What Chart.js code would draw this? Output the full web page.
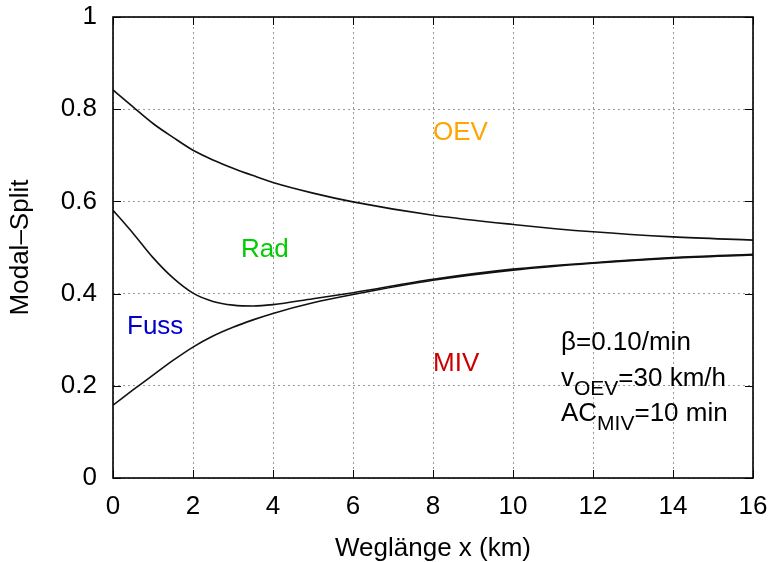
<!DOCTYPE html>
<html>
<head>
<meta charset="utf-8">
<script src="https://cdn.jsdelivr.net/npm/chart.js@4.4.1/dist/chart.umd.min.js"></script>
<style>
  html, body { margin: 0; padding: 0; background: #fff; }
  #wrap { width: 775px; height: 562px; }
</style>
</head>
<body>
<div id="wrap"><canvas id="chart"></canvas></div>
<script>
// Weglänge x (km)
const distances = [0, 0.5, 1, 1.5, 2, 2.5, 3, 3.5, 4, 5, 6, 8, 10, 12, 14, 16];
// cumulative modal split boundaries
const upperCurve = [0.842, 0.805, 0.769, 0.739, 0.711, 0.690, 0.672, 0.656, 0.641, 0.618, 0.599, 0.570, 0.550, 0.534, 0.523, 0.516];
const middleCurve = [0.581, 0.531, 0.478, 0.434, 0.401, 0.383, 0.375, 0.373, 0.376, 0.389, 0.402, 0.431, 0.453, 0.467, 0.478, 0.485];
const lowerCurve = [0.158, 0.191, 0.223, 0.255, 0.284, 0.308, 0.327, 0.343, 0.357, 0.380, 0.398, 0.429, 0.451, 0.466, 0.477, 0.484];

const xTicks = [0, 2, 4, 6, 8, 10, 12, 14, 16];
const yTicks = [0, 0.2, 0.4, 0.6, 0.8, 1];

const modeNames = ['OEV', 'Rad', 'Fuss', 'MIV'];
const modeColors = ['#ffa500', '#00cc00', '#0000cc', '#cc0000'];
const modeLabelX = [8, 3.2, 0.35, 8];
const modeLabelY = [0.748, 0.496, 0.327, 0.247];

const FONT = '"Liberation Sans", Arial, sans-serif';

function toPoints(ys) {
  return distances.map((x, i) => ({x: x, y: ys[i]}));
}

function curve(ys) {
  return {
    data: toPoints(ys),
    borderColor: '#111',
    borderWidth: 1.6,
    pointRadius: 0,
    fill: false,
    cubicInterpolationMode: 'monotone'
  };
}

// frame, inward ticks on all four sides + text labels
const decorations = {
  id: 'decorations',
  afterDatasetsDraw(chart) {
    const {ctx, chartArea: a, scales: {x, y}} = chart;
    ctx.save();
    ctx.strokeStyle = '#000';
    ctx.lineWidth = 1;
    ctx.beginPath();
    xTicks.forEach(v => {
      const px = Math.round(x.getPixelForValue(v)) + 0.5;
      ctx.moveTo(px, a.bottom); ctx.lineTo(px, a.bottom - 8);
      ctx.moveTo(px, a.top); ctx.lineTo(px, a.top + 8);
    });
    yTicks.forEach(v => {
      const py = Math.round(y.getPixelForValue(v)) + 0.5;
      ctx.moveTo(a.left, py); ctx.lineTo(a.left + 8, py);
      ctx.moveTo(a.right, py); ctx.lineTo(a.right - 8, py);
    });
    ctx.stroke();
    ctx.lineWidth = 1.6;
    ctx.strokeRect(a.left, a.top, a.right - a.left, a.bottom - a.top);

    ctx.font = '26px ' + FONT;
    ctx.textBaseline = 'middle';
    ctx.textAlign = 'left';
    modeNames.forEach((name, i) => {
      ctx.fillStyle = modeColors[i];
      ctx.fillText(name, x.getPixelForValue(modeLabelX[i]), y.getPixelForValue(modeLabelY[i]));
    });

    // parameter block with subscripts
    const lines = [
      [['β=0.10/min', false]],
      [['v', false], ['OEV', true], ['=30 km/h', false]],
      [['AC', false], ['MIV', true], ['=10 min', false]]
    ];
    const baseY = [0.278, 0.200, 0.123];
    ctx.textBaseline = 'alphabetic';
    ctx.fillStyle = '#000';
    lines.forEach((parts, i) => {
      let px = x.getPixelForValue(11.2);
      const py = y.getPixelForValue(baseY[i]);
      parts.forEach(([txt, sub]) => {
        ctx.font = (sub ? '21px ' : '26px ') + FONT;
        ctx.fillText(txt, px, sub ? py + 9 : py);
        px += ctx.measureText(txt).width;
      });
    });
    ctx.restore();
  }
};

new Chart(document.getElementById('chart'), {
  type: 'line',
  data: {
    datasets: [curve(upperCurve), curve(middleCurve), curve(lowerCurve)]
  },
  options: {
    responsive: true,
    maintainAspectRatio: false,
    animation: false,
    layout: {padding: {top: 17, right: 22, left: 0, bottom: 0}},
    plugins: {legend: {display: false}, tooltip: {enabled: false}},
    scales: {
      x: {
        type: 'linear',
        min: 0,
        max: 16,
        afterBuildTicks: s => { s.ticks = xTicks.map(v => ({value: v})); },
        afterFit: s => { s.height = 84; s.paddingLeft = 0; s.paddingRight = 0; },
        grid: {color: '#9a9a9a', lineWidth: 1, drawTicks: false},
        border: {display: false, dash: [2, 3]},
        ticks: {color: '#000', font: {family: FONT, size: 26}, padding: 13, maxRotation: 0,
          callback: v => String(v)},
        title: {display: true, text: 'Weglänge x (km)', color: '#000', font: {family: FONT, size: 26, lineHeight: 1}, padding: {top: 0, bottom: 0}}
      },
      y: {
        min: 0,
        max: 1,
        afterBuildTicks: s => { s.ticks = yTicks.map(v => ({value: v})); },
        afterFit: s => { s.width = 113; s.paddingTop = 0; s.paddingBottom = 0; },
        grid: {color: '#9a9a9a', lineWidth: 1, drawTicks: false},
        border: {display: false, dash: [2, 3]},
        ticks: {color: '#000', font: {family: FONT, size: 26}, padding: 16,
          callback: v => String(+v.toFixed(1))},
        title: {display: true, text: 'Modal–Split', color: '#000', font: {family: FONT, size: 26, lineHeight: 1}, padding: {top: 8, bottom: 0}}
      }
    }
  },
  plugins: [decorations]
});
</script>
</body>
</html>
